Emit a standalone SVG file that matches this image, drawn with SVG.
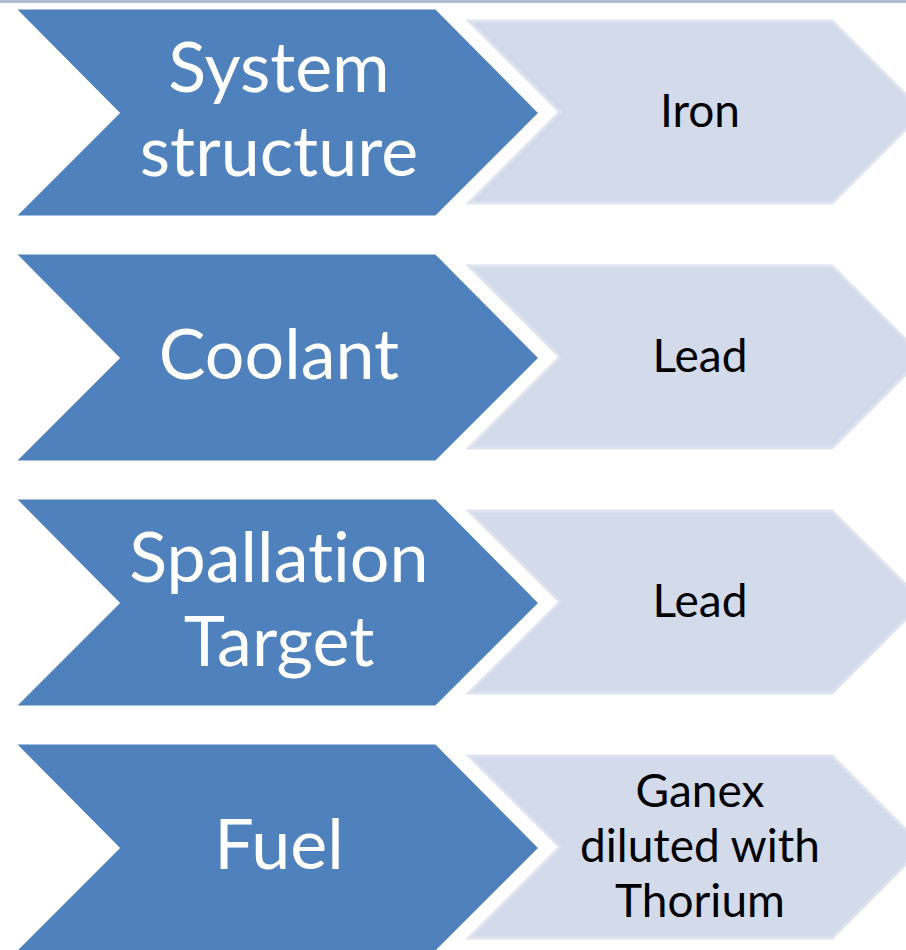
<svg xmlns="http://www.w3.org/2000/svg" width="906" height="950" viewBox="0 0 906 950">
<style>
.dark{fill:#4F81BD;stroke:#FFFFFF;stroke-width:3;stroke-linejoin:miter}
.light{fill:#D3DBEA;stroke:#DDE3EF;stroke-width:3}
text{font-variant-ligatures:none;font-feature-settings:"liga" 0}
.dt{font-family:Lato,"Liberation Sans",sans-serif;font-size:70px;fill:#FFFFFF;text-anchor:middle}
.lt{font-family:Lato,"Liberation Sans",sans-serif;font-size:46px;fill:#000000;text-anchor:middle}
</style>
<defs>
<polygon id="dk" points="14,8 436,8 540,113 436,217 14,217 118,113"/>
<polygon id="lg" points="469,21 832,21 923,112 832,203 469,203 560,112"/>
</defs>
<rect x="0" y="0" width="906" height="950" fill="#FFFFFF"/>
<rect x="0" y="0" width="906" height="3" fill="#B0BFD2"/>
<g id="connectors"></g>
<g id="row1-value"><use href="#lg" class="light"/><text class="lt" x="700" y="127">Iron</text></g>
<g id="row1-label"><use href="#dk" class="dark"/><text class="dt" x="279" y="92">System</text><text class="dt" x="279" y="176">structure</text></g>
<g id="row2-value" transform="translate(0,245)"><use href="#lg" class="light"/><text class="lt" x="700" y="127">Lead</text></g>
<g id="row2-label" transform="translate(0,245)"><use href="#dk" class="dark"/><text class="dt" x="279" y="134">Coolant</text></g>
<g id="row3-value" transform="translate(0,490)"><use href="#lg" class="light"/><text class="lt" x="700" y="127">Lead</text></g>
<g id="row3-label" transform="translate(0,490)"><use href="#dk" class="dark"/><text class="dt" x="279" y="92">Spallation</text><text class="dt" x="279" y="176">Target</text></g>
<g id="row4-value" transform="translate(0,735)"><use href="#lg" class="light"/><text class="lt" x="700" y="72">Ganex</text><text class="lt" x="700" y="127">diluted with</text><text class="lt" x="700" y="182">Thorium</text></g>
<g id="row4-label" transform="translate(0,735)"><use href="#dk" class="dark"/><text class="dt" x="279" y="134">Fuel</text></g>
</svg>
